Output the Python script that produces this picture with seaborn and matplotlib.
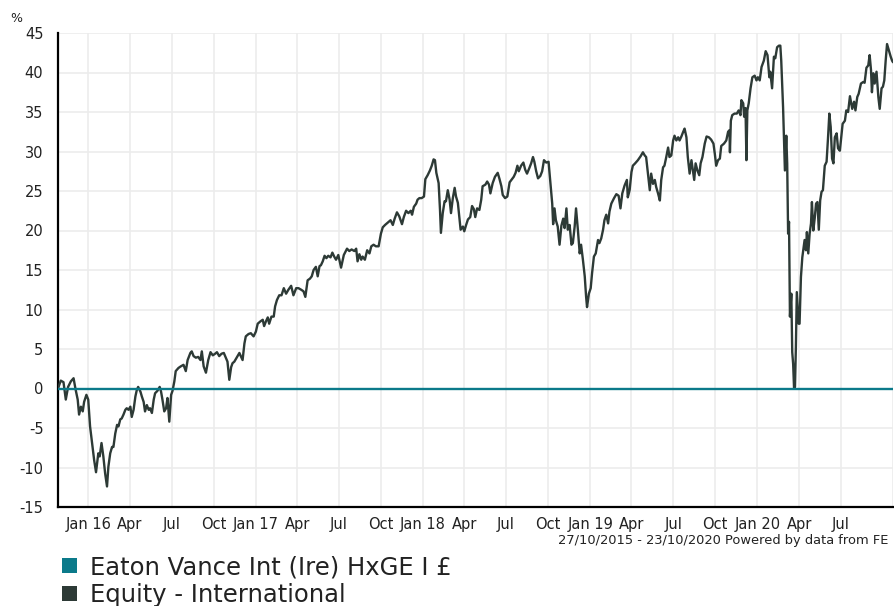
import matplotlib
matplotlib.use("Agg")
import matplotlib.pyplot as plt
from matplotlib.patches import Patch
import seaborn as sns
import pandas as pd
import numpy as np

# ---------------- data ----------------
start_date = "2015-10-27"
end_date = "2020-10-23"

# Sector (Equity - International) cumulative performance, % (day offset from start, value)
sector_days = [
    0, 6, 12, 17, 22, 28, 34, 38, 43, 46, 50, 54, 57, 62, 66, 70, 74, 79, 83, 88, 91, 95, 99, 103, 107,
    110, 114, 118, 121, 125, 129, 132, 136, 139, 143, 147, 150, 154, 158, 161, 165, 169, 172, 175, 180,
    183, 187, 190, 194, 198, 201, 205, 209, 212, 217, 222, 225, 228, 232, 236, 239, 243, 247, 250, 254,
    257, 263, 268, 274, 279, 283, 289, 292, 296, 301, 306, 311, 314,
    318, 323, 328, 333, 338, 343, 347, 352, 357, 362, 367, 370, 374, 378, 381, 385, 391, 396, 400, 403,
    407, 410, 416, 421, 427, 432, 436, 442, 447, 450, 454, 458, 461, 466, 471, 474, 478, 483, 488, 493,
    498, 503, 509, 514, 520, 525, 531, 536, 540, 545, 550, 554, 558, 563, 567, 571, 574, 578, 582, 586,
    590, 595, 599, 603, 607, 612, 618,
    624, 631, 636, 641, 647, 651, 654, 658, 662, 665, 670, 675, 680, 684, 689, 694, 700, 705, 709, 714,
    720, 726, 731, 735, 740, 745, 751, 755, 760, 765, 770, 773, 777, 782, 785, 789, 794, 799, 802, 807,
    812, 816, 820, 823, 826, 831, 834, 836, 840, 844, 847, 851, 855, 858, 862, 866, 869, 873, 876, 879,
    884, 887, 891, 895, 900, 904, 908, 911, 915, 920, 924, 927,
    933, 937, 941, 944, 949, 954, 960, 964, 968, 971, 976, 981, 986, 991, 995, 999, 1003, 1006, 1011,
    1016, 1020, 1024, 1029, 1033, 1037, 1040, 1044, 1048, 1053, 1057, 1061, 1066, 1071, 1075, 1079,
    1081, 1084, 1087, 1091, 1095, 1099, 1103, 1106, 1110, 1113, 1117, 1121, 1124, 1128, 1131, 1135,
    1139, 1142, 1146, 1150, 1153, 1155, 1159, 1163, 1166, 1170, 1174, 1179, 1182, 1186, 1190, 1193,
    1197, 1201, 1204, 1208, 1214, 1219, 1224, 1228, 1232,
    1237, 1242, 1244, 1248, 1252, 1255, 1260, 1266, 1272, 1277, 1281, 1284, 1288, 1292, 1295, 1299,
    1303, 1306, 1310, 1314, 1317, 1321, 1324, 1328, 1332, 1335, 1339, 1343, 1346, 1350, 1354, 1357,
    1361, 1365, 1368, 1372, 1375, 1379, 1383, 1386, 1389, 1392, 1396, 1400, 1403, 1407, 1412, 1416,
    1421, 1426, 1431, 1434, 1437, 1441, 1445, 1448, 1454, 1459, 1463, 1466, 1467, 1469, 1472, 1477,
    1482, 1486, 1490, 1492, 1496, 1498, 1501, 1503, 1505, 1508, 1512, 1516,
    1521, 1525, 1528, 1532, 1536, 1541, 1545, 1549, 1553, 1555, 1559, 1563, 1566, 1570, 1574, 1577,
    1579, 1583, 1585, 1587, 1590, 1592, 1594, 1596, 1598, 1601, 1603, 1605, 1607, 1609, 1611, 1613,
    1615, 1617, 1619, 1622, 1625, 1628, 1630, 1633, 1635, 1638, 1641, 1644, 1646, 1649, 1652, 1655,
    1658, 1661, 1664, 1667, 1670, 1674, 1678, 1681, 1684, 1687, 1690, 1693, 1696, 1700, 1703, 1707,
    1710, 1713, 1718, 1721, 1725, 1729, 1734, 1738, 1741, 1745, 1748, 1753, 1758, 1761, 1765, 1769,
    1772, 1775, 1777, 1780, 1783, 1787, 1791, 1794, 1798, 1801, 1804, 1807, 1810, 1814, 1818, 1821, 1823,
]
sector_values = [
    0.0, 1.0, 0.8, -1.4, 0.2, 0.9, 1.3, 0.0, -1.4, -3.3, -2.3, -2.9, -1.7, -0.8, -1.4, -4.8, -6.7, -9.1,
    -10.6, -8.2, -8.6, -6.9, -8.6, -10.8, -12.4, -9.9, -8.2, -7.4, -7.4, -5.7, -4.6, -4.8, -3.9, -3.8,
    -3.3, -2.7, -2.5, -2.7, -2.3, -3.6, -2.7, -1.0, -0.2, 0.2, -0.4, -1.0, -1.7, -2.9, -2.1, -2.7, -2.5,
    -3.1, -1.4, -0.6, -0.3, 0.2, -0.4, -1.4, -2.9, -2.5, -1.2, -4.2, -0.8, -0.3, 0.9, 2.2, 2.6, 2.8, 3.0,
    2.2, 3.6, 4.5, 4.7, 4.1, 3.9, 4.0, 3.6, 4.7,
    2.8, 2.0, 3.6, 4.6, 4.2, 4.4, 4.6, 4.1, 4.4, 4.5, 3.8, 3.4, 1.1, 2.7, 3.2, 3.4, 4.0, 4.5, 4.0, 3.6,
    5.7, 6.6, 6.9, 7.0, 6.6, 7.2, 8.2, 8.5, 8.7, 7.9, 8.5, 9.0, 8.2, 9.1, 9.1, 10.4, 11.2, 11.8, 11.8,
    12.7, 12.0, 12.5, 13.0, 11.8, 12.7, 12.7, 12.5, 12.3, 11.6, 13.7, 13.9, 14.2, 15.0, 15.4, 14.2, 15.5,
    15.6, 16.1, 16.8, 16.5, 16.8, 16.6, 17.2, 16.7, 16.3, 16.9, 15.3,
    16.9, 17.7, 17.4, 17.6, 17.4, 17.7, 16.1, 17.0, 16.3, 16.7, 16.3, 17.5, 17.1, 18.0, 18.2, 18.0, 18.0,
    19.6, 20.4, 20.7, 21.0, 21.3, 20.7, 21.5, 22.3, 21.8, 20.8, 21.7, 22.5, 22.2, 22.5, 22.0, 23.0, 23.4,
    23.9, 24.1, 24.1, 24.3, 26.5, 27.0, 27.6, 28.2, 29.0, 28.9, 27.3, 26.0, 22.6, 19.7, 22.2, 23.7, 23.7,
    25.1, 23.9, 22.2, 24.1, 25.4, 24.3, 23.5, 21.8, 20.1, 20.5, 19.9, 20.7, 21.4, 21.7, 23.1, 22.7, 21.7,
    22.8, 22.6, 23.9, 25.6,
    25.8, 26.2, 25.8, 24.7, 26.0, 26.8, 27.3, 26.5, 25.6, 24.5, 24.1, 24.3, 26.1, 26.5, 26.8, 27.3, 28.2,
    27.5, 28.2, 28.6, 27.7, 27.2, 27.9, 28.5, 29.3, 28.7, 27.5, 26.6, 26.9, 27.5, 28.9, 28.6, 28.7, 26.0,
    23.4, 20.8, 22.8, 21.3, 20.5, 18.2, 20.6, 21.5, 20.3, 22.8, 20.1, 20.7, 18.2, 18.4, 20.5, 22.8, 20.1,
    17.1, 18.2, 16.3, 14.2, 11.6, 10.3, 12.0, 12.7, 14.6, 16.7, 17.1, 18.8, 18.4, 19.0, 20.1, 21.3, 22.0,
    20.9, 22.4, 23.4, 24.1, 24.6, 24.4, 22.8, 24.7,
    25.7, 26.4, 24.2, 25.1, 27.4, 28.2, 28.5, 28.9, 29.4, 29.9, 29.5, 29.3, 27.2, 25.1, 27.2, 25.9, 26.4,
    25.5, 24.7, 23.8, 26.4, 28.0, 28.2, 29.3, 30.5, 29.3, 29.5, 31.4, 32.0, 31.4, 31.8, 31.4, 31.9, 32.5,
    32.9, 31.8, 29.3, 27.2, 28.9, 27.6, 26.4, 28.5, 27.6, 27.0, 28.5, 29.3, 31.0, 31.9, 31.8, 31.5, 31.0,
    29.7, 28.2, 28.9, 29.1, 30.7, 31.0, 31.4, 32.5, 32.7, 29.9, 33.9, 34.6, 34.8, 34.8, 35.2, 34.6, 36.5,
    36.1, 34.4, 35.5, 28.9, 35.2, 36.1, 38.0, 39.4,
    39.6, 39.0, 39.4, 39.0, 40.7, 41.5, 42.7, 42.2, 39.4, 40.1, 38.0, 42.0, 41.8, 43.2, 43.4, 43.4, 41.5,
    35.6, 31.8, 27.6, 32.0, 28.5, 19.6, 21.1, 9.1, 12.0, 4.6, 3.1, 0.0, 0.2, 5.3, 12.2, 10.3, 8.2, 8.2,
    14.1, 16.6, 17.9, 18.8, 17.5, 19.8, 17.1, 19.6, 20.9, 23.6, 20.0, 21.5, 23.4, 23.6, 20.1, 23.8, 24.9,
    25.1, 28.2, 28.7, 31.6, 34.8, 33.1, 29.1, 28.5, 31.8, 32.3, 30.4, 30.1, 31.8, 33.5, 33.9, 35.2, 35.0,
    37.0, 35.4, 36.3, 35.2, 36.9, 37.3, 38.6, 38.8, 38.7, 40.6, 40.9, 42.2, 40.3, 37.5, 39.9, 38.6, 40.1,
    36.9, 35.4, 38.0, 38.2, 39.0, 41.5, 43.6, 42.8, 42.0, 41.5, 41.3,
]

# Fund line (flat at 0 across the period)
fund_days = [0, 1823]
fund_values = [0.0, 0.0]

series_names = ["Eaton Vance Int (Ire) HxGE I £", "Equity - International"]
series_colors = ["#0b7a8a", "#2d3a36"]

x_tick_dates = ["2016-01-01", "2016-04-01", "2016-07-01", "2016-10-01",
                "2017-01-01", "2017-04-01", "2017-07-01", "2017-10-01",
                "2018-01-01", "2018-04-01", "2018-07-01", "2018-10-01",
                "2019-01-01", "2019-04-01", "2019-07-01", "2019-10-01",
                "2020-01-01", "2020-04-01", "2020-07-01"]
x_tick_labels = ["Jan 16", "Apr", "Jul", "Oct", "Jan 17", "Apr", "Jul", "Oct",
                 "Jan 18", "Apr", "Jul", "Oct", "Jan 19", "Apr", "Jul", "Oct",
                 "Jan 20", "Apr", "Jul"]
y_ticks = [-15, -10, -5, 0, 5, 10, 15, 20, 25, 30, 35, 40, 45]

# ---------------- build frames ----------------
t0 = pd.Timestamp(start_date)
sector_df = pd.DataFrame({
    "date": t0 + pd.to_timedelta(sector_days, unit="D"),
    "value": sector_values,
})
fund_df = pd.DataFrame({
    "date": t0 + pd.to_timedelta(fund_days, unit="D"),
    "value": fund_values,
})

# ---------------- plot ----------------
sns.set_style("white")
plt.rcParams["font.family"] = ["DejaVu Sans"]

W, H = 894, 606
fig = plt.figure(figsize=(W / 100, H / 100), dpi=100)
ax = fig.add_axes([58 / W, 1 - 507 / H, (893 - 58) / W, (507 - 33) / H])

sns.lineplot(data=sector_df, x="date", y="value", ax=ax, color=series_colors[1],
             linewidth=1.7, zorder=3)
sns.lineplot(data=fund_df, x="date", y="value", ax=ax, color=series_colors[0],
             linewidth=1.7, zorder=4)

ax.set_xlim(pd.Timestamp(start_date), pd.Timestamp(end_date))
ax.set_ylim(-15, 45)
ax.set_yticks(y_ticks)
ax.set_yticklabels([str(v) for v in y_ticks])
ax.set_xticks(pd.to_datetime(x_tick_dates))
ax.set_xticklabels(x_tick_labels)
ax.set_xlabel("")
ax.set_ylabel("")

ax.grid(True, color="#ececec", linewidth=1.2, zorder=0)
ax.set_axisbelow(True)
ax.axvline(pd.Timestamp(end_date), color="#ececec", linewidth=1.2, zorder=0)

for s in ["top", "right"]:
    ax.spines[s].set_visible(False)
for s in ["left", "bottom"]:
    ax.spines[s].set_color("black")
    ax.spines[s].set_linewidth(1.6)

ax.tick_params(axis="both", which="both", direction="out", length=3.5, width=1.2,
               color="black", labelcolor="#222222", labelsize=10.5)
ax.tick_params(axis="y", pad=7)
ax.tick_params(axis="x", pad=3.5)

fig.text(10 / W, 1 - 12 / H, "%", fontsize=9, color="#222222", va="top", ha="left")
fig.text(888 / W, 1 - 534 / H, "27/10/2015 - 23/10/2020 Powered by data from FE",
         fontsize=9.4, color="#222222", va="top", ha="right")

handles = [Patch(facecolor=c, edgecolor="none") for c in series_colors]
fig.legend(handles, series_names, loc="upper left", bbox_to_anchor=(62 / W, 1 - 555 / H),
           frameon=False, fontsize=17.5, handlelength=0.62, handleheight=0.62,
           handletextpad=0.52, labelspacing=0.17, borderaxespad=0, borderpad=0,
           labelcolor="#222222")

fig.savefig("out.png", dpi=100)
